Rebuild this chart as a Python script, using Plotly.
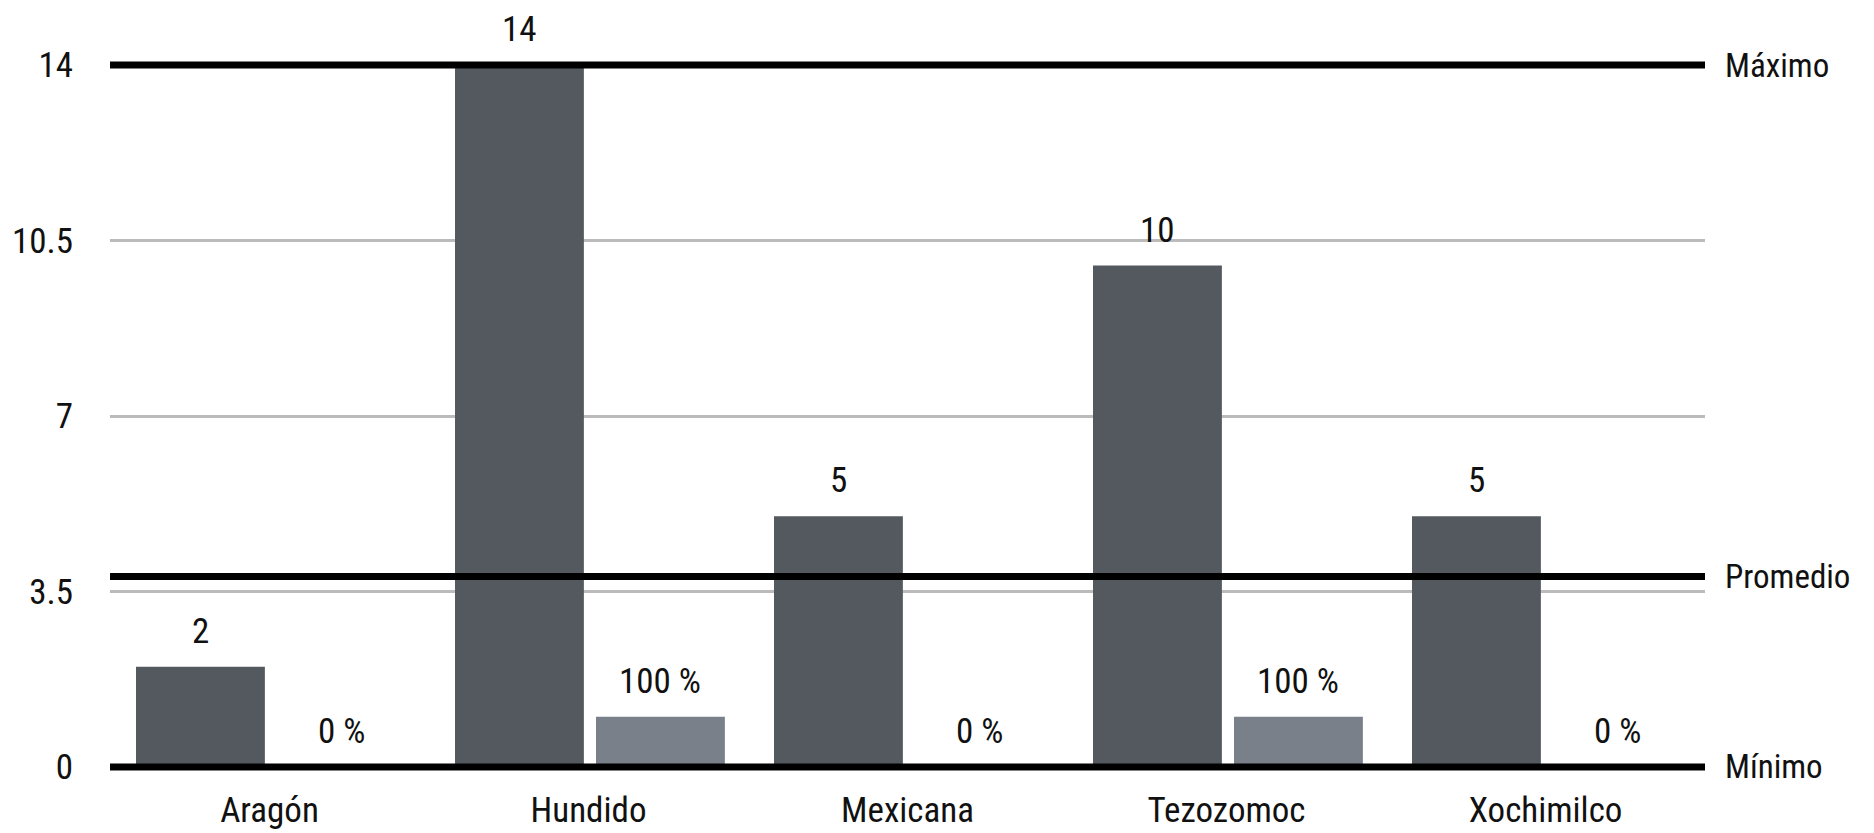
import plotly.graph_objects as go

categories = ["Aragón", "Hundido", "Mexicana", "Tezozomoc", "Xochimilco"]
counts = [2, 14, 5, 10, 5]
percent = [0, 100, 0, 100, 0]
ref_names = ["Máximo", "Promedio", "Mínimo"]
ref_values = [14, 3.8, 0]
y_ticks = [0, 3.5, 7, 10.5, 14]
y_ticktext = ["0", "3.5", "7", "10.5", "14"]

FONT = "Liberation Sans Narrow, Roboto Condensed, DejaVu Sans Condensed, sans-serif"
DARK = "#54585f"
LIGHT = "#7a808a"
TXT = "#111111"
FS = 35
BW = 0.404
OFF_DARK = -0.4185
OFF_LIGHT = 0.0235

idx = list(range(len(categories)))
pct_scaled = [p / 100 for p in percent]

fig = go.Figure()
fig.add_trace(go.Bar(x=idx, y=counts, marker_color=DARK, width=BW, offset=OFF_DARK,
                     marker_line_width=0, showlegend=False))
fig.add_trace(go.Bar(x=idx, y=pct_scaled, marker_color=LIGHT, width=BW, offset=OFF_LIGHT,
                     marker_line_width=0, showlegend=False))

annotations = []
for i, v in zip(idx, counts):
    annotations.append(dict(x=i + OFF_DARK + BW / 2, y=v, xref="x", yref="y", text=str(v),
                            showarrow=False, yanchor="bottom", yshift=13,
                            font=dict(family=FONT, size=FS, color=TXT)))
for i, v, p in zip(idx, pct_scaled, percent):
    annotations.append(dict(x=i + OFF_LIGHT + BW / 2, y=v, xref="x", yref="y", text=f"{p} %",
                            showarrow=False, yanchor="bottom", yshift=13,
                            font=dict(family=FONT, size=FS, color=TXT)))
shapes = []
for name, v in zip(ref_names, ref_values):
    shapes.append(dict(type="line", xref="paper", x0=0, x1=1, yref="y", y0=v, y1=v,
                       line=dict(color="#000000", width=7), layer="above"))
    annotations.append(dict(x=1, y=v, xref="paper", yref="y", text=name, showarrow=False,
                            xanchor="left", xshift=18,
                            font=dict(family=FONT, size=FS - 2, color=TXT)))

fig.update_layout(
    width=1874, height=833,
    margin=dict(l=110, r=169, t=60, b=61, autoexpand=False),
    paper_bgcolor="white", plot_bgcolor="white",
    barmode="overlay",
    shapes=shapes, annotations=annotations,
    font=dict(family=FONT, size=FS, color=TXT),
    xaxis=dict(range=[-0.5, 4.5], tickmode="array", tickvals=idx, ticktext=categories,
               showgrid=False, zeroline=False, showline=False, ticks="", automargin=False,
               ticklabelstandoff=14, tickfont=dict(family=FONT, size=FS, color=TXT)),
    yaxis=dict(range=[-0.1, 14.1], tickmode="array", tickvals=y_ticks, ticktext=y_ticktext,
               showgrid=True, gridcolor="#bbbbbb", gridwidth=2.5, zeroline=False, automargin=False,
               showline=False, ticks="", ticklabelstandoff=36,
               tickfont=dict(family=FONT, size=FS, color=TXT)),
)

fig.write_html("out.html")
